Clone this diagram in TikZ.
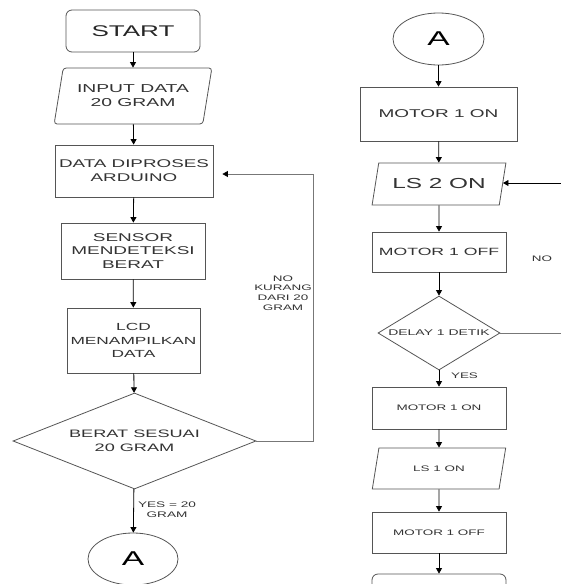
\documentclass[tikz,border=0pt]{standalone}
\usepackage{fontspec}
\setmainfont{Liberation Sans}[FakeStretch=1.68]
\usetikzlibrary{shapes.geometric,arrows.meta}
\definecolor{txt}{HTML}{333333}
\definecolor{bord}{HTML}{555555}
\definecolor{fbc}{HTML}{777777}
\newcommand\fs[2]{\fontsize{#1}{#2}\selectfont}
\tikzset{
  base/.style={draw=bord, line width=0.8pt, text=txt, align=center, inner sep=0pt},
  procbox/.style={base, rectangle},
  termbox/.style={base, rectangle, rounded corners=6pt},
  iobox/.style={base, trapezium, trapezium stretches=true},
  decbox/.style={base, diamond},
  connbox/.style={base, ellipse},
  arr/.style={-{Triangle[length=5.5pt,width=6pt,color=black]}, line width=0.8pt, draw=black},
  fbarr/.style={arr, draw=fbc},
  lbl/.style={text=txt, align=center, inner sep=0pt}
}
\begin{document}
\begin{tikzpicture}[x=1pt,y=-1pt]
\useasboundingbox (0,0) rectangle (561,584);
\clip (0,0) rectangle (561,584);
\fill[white] (0,0) rectangle (561,584);
% left column
\node[termbox, minimum width=134pt, minimum height=42pt, font=\fs{15.5}{18}, text=black!85] (start) at (133,31) {START};
\node[iobox, rounded corners=3pt, trapezium left angle=71.7, trapezium right angle=108.3, minimum width=158pt, minimum height=56pt, font=\fs{11.5}{14}] (input) at (133,96) {INPUT DATA\\20 GRAM};
\node[procbox, minimum width=158pt, minimum height=52pt, font=\fs{11.2}{14}] (data) at (134,171) {DATA DIPROSES\\ARDUINO};
\node[procbox, minimum width=144pt, minimum height=56pt, font=\fs{11.3}{13.8}] (sensor) at (133,251) {SENSOR\\MENDETEKSI\\BERAT};
\node[procbox, minimum width=133pt, minimum height=65pt, font=\fs{10.3}{13.8}] (lcd) at (133.5,340.5) {LCD\\MENAMPILKAN\\DATA};
\node[decbox, aspect=2.53, minimum width=243pt, minimum height=96pt, font=\fs{10.8}{14}] (cek) at (134.5,441) {BERAT SESUAI\\20 GRAM};
\node[connbox, minimum width=90pt, minimum height=52pt, font=\fs{20}{22}, text=black] (a1) at (133,559) {A};
\coordinate (k1) at (313,441);
\draw[arr] (start) -- (input);
\draw[arr] (input) -- (data);
\draw[arr] (data) -- (sensor);
\draw[arr] (sensor) -- (lcd);
\draw[arr] (lcd) -- (cek);
\draw[arr] (cek) -- (a1);
\draw[fbarr] (cek.east) -- (k1) |- ([xshift=9pt,yshift=-3pt]data.east);
\node[lbl, font=\fs{8}{9.8}] (nolbl) at (283,293) {NO\\KURANG\\DARI 20\\GRAM};
\node[lbl, font=\fs{8.1}{10}] (yeslbl) at (167,510) {YES = 20\\GRAM};
% right column
\node[connbox, minimum width=91pt, minimum height=52pt, font=\fs{20}{22}, text=black] (a2) at (438.5,39) {A};
\node[procbox, minimum width=157pt, minimum height=54pt, font=\fs{11.3}{14}] (m1) at (438.5,114) {MOTOR 1 ON};
\node[iobox, trapezium left angle=63.4, trapezium right angle=116.6, minimum width=134pt, minimum height=42pt, font=\fs{14.5}{17}] (ls2) at (439,184) {LS 2 ON};
\node[procbox, minimum width=134pt, minimum height=40pt, font=\fs{10.5}{13}] (m2) at (439,252) {MOTOR 1 OFF};
\node[decbox, aspect=1.65, minimum width=122pt, minimum height=74pt, font=\fs{8.3}{10}] (delay) at (439,333) {DELAY 1 DETIK};
\node[procbox, minimum width=134pt, minimum height=42pt, font=\fs{8}{10}] (m3) at (439,408) {MOTOR 1 ON};
\node[iobox, trapezium left angle=63.4, trapezium right angle=116.6, minimum width=134pt, minimum height=41pt, font=\fs{8}{10}] (ls1) at (439,468.5) {LS 1 ON};
\node[procbox, minimum width=134pt, minimum height=41pt, font=\fs{8}{10}] (m4) at (439,532.5) {MOTOR 1 OFF};
\node[termbox, minimum width=134pt, minimum height=42pt] (fin) at (439,595) {};
\coordinate (k2) at (590,333);
\draw[arr] (a2) -- (m1);
\draw[arr] (m1) -- (ls2);
\draw[arr] (ls2) -- (m2);
\draw[arr] (m2) -- (delay);
\draw[arr] (delay) -- (m3);
\draw[arr] (m3) -- (ls1);
\draw[arr] (ls1) -- (m4);
\draw[arr] (m4) -- (fin);
\draw[fbc, line width=0.8pt] (delay.east) -- (k2);
\draw[arr] (k2) |- ([yshift=1pt]ls2.east);
\node[lbl, font=\fs{8}{10}] (no2) at (542,259) {NO};
\node[lbl, font=\fs{8}{10}] (yes2) at (464.5,376) {YES};
\end{tikzpicture}
\end{document}
